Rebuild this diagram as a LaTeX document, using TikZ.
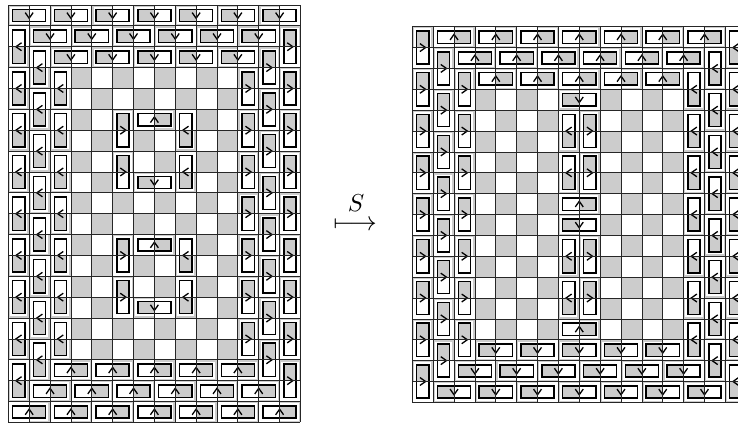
\documentclass[tikz,border=0pt]{standalone}
\usepackage{graphicx}
\tikzset{
  sq/.style={fill=black!20},
  gridl/.style={draw=black!85, line width=0.75pt},
  halo/.style={draw=white, line width=3pt},
  bord/.style={draw=black, line width=1.45pt},
  chev/.style={draw=black, line width=1.3pt, line join=miter},
}
\def\hi{0.158}
\def\bi{0.206}
\def\aw{0.19}
\def\ah{0.135}
\newcommand\chD[2]{\draw[chev] (#1-\aw,#2-\ah) -- (#1,#2+\ah) -- (#1+\aw,#2-\ah);}
\newcommand\chU[2]{\draw[chev] (#1-\aw,#2+\ah) -- (#1,#2-\ah) -- (#1+\aw,#2+\ah);}
\newcommand\chL[2]{\draw[chev] (#1+\ah,#2-\aw) -- (#1-\ah,#2) -- (#1+\ah,#2+\aw);}
\newcommand\chR[2]{\draw[chev] (#1-\ah,#2-\aw) -- (#1+\ah,#2) -- (#1-\ah,#2+\aw);}
\newcommand\dH[3]{%
  \draw[halo] (#1-1+\hi,#2-1+\hi) rectangle (#1+1-\hi,#2-\hi);
  \draw[bord] (#1-1+\bi,#2-1+\bi) rectangle (#1+1-\bi,#2-\bi);
  \csname ch#3\endcsname{#1}{#2-0.5}}
\newcommand\dV[3]{%
  \draw[halo] (#1-1+\hi,#2-1+\hi) rectangle (#1-\hi,#2+1-\hi);
  \draw[bord] (#1-1+\bi,#2-1+\bi) rectangle (#1-\bi,#2+1-\bi);
  \csname ch#3\endcsname{#1-0.5}{#2}}
\newcommand\board[2]{% cols, rows
  \fill[white] (0,0) rectangle (#1,#2);
  \foreach \q in {1,...,#2}{\foreach \p in {1,...,#1}{%
    \ifodd\numexpr\p+\q\relax\else\fill[sq] (\p-1,\q-1) rectangle (\p,\q);\fi}}}
\newcommand\boardgrid[2]{%
  \foreach \p in {0,...,#1}{\draw[gridl] (\p,0) -- (\p,#2);}
  \foreach \q in {0,...,#2}{\draw[gridl] (0,\q) -- (#1,\q);}}
\begin{document}
\begin{tikzpicture}[x=1pt,y=-1pt]
\useasboundingbox (0,0) rectangle (738,423);
\clip (0,0) rectangle (738,423);
\fill[white] (0,0) rectangle (738,423);
% left board
\begin{scope}[shift={(8.3pt,-5pt)}, x=20.87pt, y=-20.87pt]
  \board{14}{20}
  \foreach \p in {1,3,...,13}{\dH{\p}{1}{D}\dH{\p}{20}{U}}
  \foreach \p in {2,4,...,12}{\dH{\p}{2}{D}\dH{\p}{19}{U}}
  \foreach \p in {3,5,...,11}{\dH{\p}{3}{D}\dH{\p}{18}{U}}
  \foreach \q in {2,4,...,18}{\dV{1}{\q}{L}\dV{14}{\q}{R}}
  \foreach \q in {3,5,...,17}{\dV{2}{\q}{L}\dV{13}{\q}{R}}
  \foreach \q in {4,6,...,16}{\dV{3}{\q}{L}\dV{12}{\q}{R}}
  \foreach \q in {6,8,12,14}{\dV{6}{\q}{R}\dV{9}{\q}{L}}
  \dH{7}{6}{U}\dH{7}{9}{D}\dH{7}{12}{U}\dH{7}{15}{D}
  \boardgrid{14}{20}
\end{scope}
% right board
\begin{scope}[shift={(412.3pt,-26.7pt)}, x=20.87pt, y=-20.87pt]
  \board{16}{18}
  \foreach \p in {2,4,...,14}{\dH{\p}{1}{U}\dH{\p}{18}{D}}
  \foreach \p in {3,5,...,13}{\dH{\p}{2}{U}\dH{\p}{17}{D}}
  \foreach \p in {4,6,...,12}{\dH{\p}{3}{U}\dH{\p}{16}{D}}
  \foreach \q in {1,3,...,17}{\dV{1}{\q}{R}\dV{16}{\q}{L}}
  \foreach \q in {2,4,...,16}{\dV{2}{\q}{R}\dV{15}{\q}{L}}
  \foreach \q in {3,5,...,15}{\dV{3}{\q}{R}\dV{14}{\q}{L}}
  \foreach \q in {5,7,11,13}{\dV{8}{\q}{L}\dV{9}{\q}{R}}
  \dH{8}{4}{D}\dH{8}{9}{U}\dH{8}{10}{D}\dH{8}{15}{U}
  \boardgrid{16}{18}
\end{scope}
% map arrow
\node[inner sep=0pt] (slabel) at (356,203) {\scalebox{2.45}{$S$}};
\node[inner sep=0pt] (maps) at (355,226) {\scalebox{2.7}{$\longmapsto$}};
\end{tikzpicture}
\end{document}
